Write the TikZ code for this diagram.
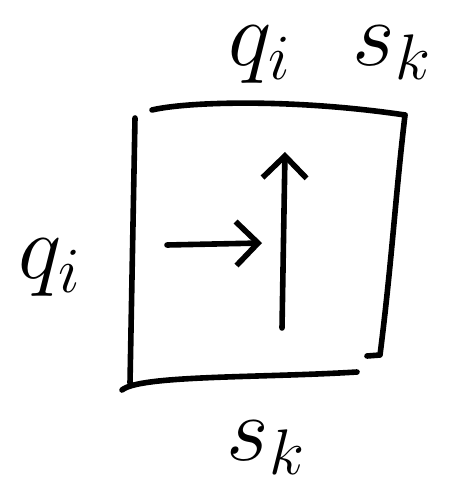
\RequirePackage{fix-cm}
\documentclass[tikz,border=0pt]{standalone}
\usetikzlibrary{arrows.meta}
\tikzset{
  pen/.style={line width=2.8pt,line cap=round,line join=round},
  vec/.style={pen,-{Straight Barb[length=11pt,width=22pt]}},
  lbl/.style={font=\fontsize{46}{52}\selectfont,inner sep=1pt}
}
\begin{document}
\begin{tikzpicture}[x=0.5pt,y=-0.5pt]
\useasboundingbox (0,0) rectangle (453,490);
% corners of the square
\coordinate (tl) at (152,110);
\coordinate (tr) at (405,115);
\coordinate (lt) at (135,118);
\coordinate (lb) at (130,383);
\coordinate (bl) at (122,390);
\coordinate (br) at (357,372);
\coordinate (rb) at (380,355);
\coordinate (rh) at (367,356);
% square, freehand
\draw[pen] (tl) .. controls (185,102) and (290,98) .. (tr);
\draw[pen] (lt) -- (lb);
\draw[pen] (bl) .. controls (140,375) and (260,378) .. (br);
\draw[pen] (tr) .. controls (395,200) and (392,260) .. (rb) -- (rh);
% arrows inside
\coordinate (h0) at (167,245);
\coordinate (h1) at (262,243);
\coordinate (v0) at (282,328);
\coordinate (v1) at (285,152);
\draw[vec] (h0) -- (h1);
\draw[vec] (v0) -- (v1);
% labels
\node[lbl] (top) at (330,55) {$q_i\enspace\, s_k$};
\node[lbl] (left) at (50,268) {$q_i$};
\node[lbl] (bottom) at (266,448) {$s_k$};
\end{tikzpicture}
\end{document}
